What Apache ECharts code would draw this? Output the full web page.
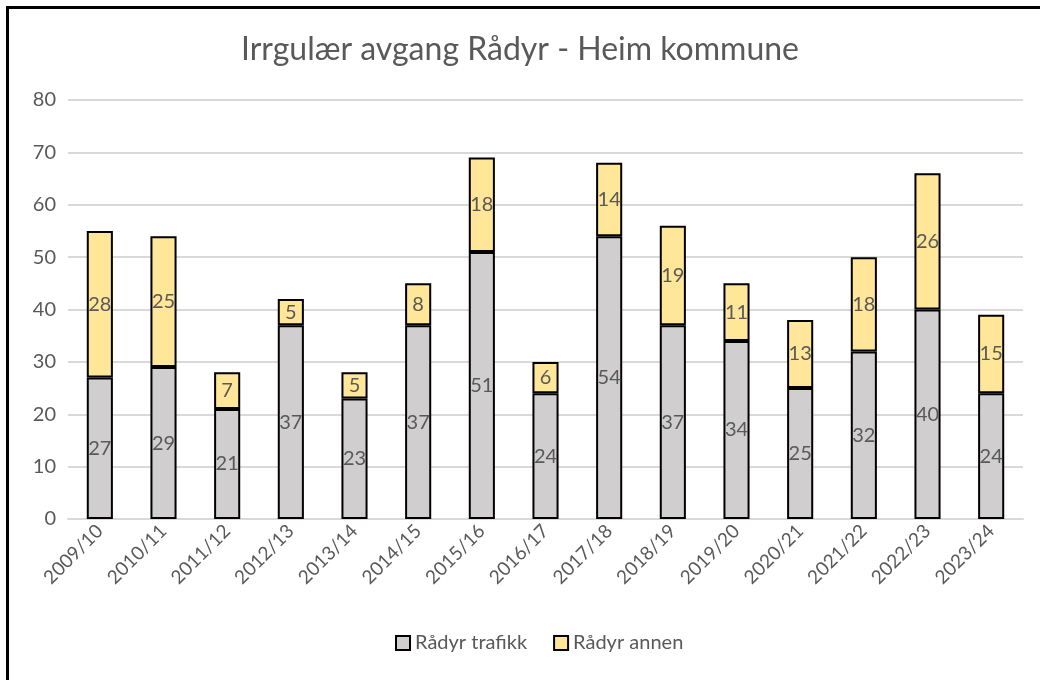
<!DOCTYPE html>
<html>
<head>
<meta charset="utf-8">
<script src="https://cdn.jsdelivr.net/npm/echarts@6/dist/echarts.min.js"></script>
<style>
  html, body { margin: 0; padding: 0; background: #fff; }
  #frame { position: absolute; left: 6px; top: 6px; width: 1100px; height: 700px;
           border-left: 3px solid #000; border-top: 3px solid #000; box-sizing: border-box; }
  #chart { position: absolute; left: 0; top: 0; width: 1040px; height: 680px; }
</style>
</head>
<body>
<div id="frame"></div>
<div id="chart"></div>
<script>
const seasons = ['2009/10','2010/11','2011/12','2012/13','2013/14','2014/15','2015/16','2016/17',
                 '2017/18','2018/19','2019/20','2020/21','2021/22','2022/23','2023/24'];
const trafikk = [27, 29, 21, 37, 23, 37, 51, 24, 54, 37, 34, 25, 32, 40, 24];
const annen   = [28, 25, 7, 5, 5, 8, 18, 6, 14, 19, 11, 13, 18, 26, 15];
const yTicks  = [0, 10, 20, 30, 40, 50, 60, 70, 80];

const font = 'Lato, "Open Sans", sans-serif';
const textColor = '#595959';

const chart = echarts.init(document.getElementById('chart'), null, { renderer: 'canvas' });

function barSeries(name, data, color) {
  return {
    name: name,
    type: 'bar',
    stack: 'total',
    data: data,
    barWidth: '41%',
    itemStyle: { color: color, borderColor: '#000', borderWidth: 2 },
    label: {
      show: true, position: 'inside',
      color: textColor, fontFamily: font, fontSize: 20
    },
    emphasis: { disabled: true }
  };
}

chart.setOption({
  animation: false,
  title: {
    text: 'Irrgulær avgang Rådyr - Heim kommune',
    left: 'center', top: 29,
    textStyle: { fontFamily: font, fontSize: 32, fontWeight: 'normal', color: textColor }
  },
  legend: {
    bottom: 22, left: 390,
    itemWidth: 14, itemHeight: 14, itemGap: 26,
    icon: 'rect',
    textStyle: { fontFamily: font, fontSize: 20, color: textColor },
    data: ['Rådyr trafikk', 'Rådyr annen']
  },
  grid: { left: 68, right: 17, top: 100, bottom: 161, containLabel: false },
  xAxis: {
    type: 'category',
    data: seasons,
    axisLine: { lineStyle: { color: '#d9d9d9', width: 2 } },
    axisTick: { show: false },
    axisLabel: {
      rotate: 45, interval: 0, margin: 9,
      color: textColor, fontFamily: font, fontSize: 19
    }
  },
  yAxis: {
    type: 'value',
    min: yTicks[0], max: yTicks[yTicks.length - 1], interval: 10,
    axisLine: { show: false },
    axisTick: { show: false },
    axisLabel: { color: textColor, fontFamily: font, fontSize: 20, margin: 12 },
    splitLine: { lineStyle: { color: '#d9d9d9', width: 2 } }
  },
  series: [
    barSeries('Rådyr trafikk', trafikk, '#d0cece'),
    barSeries('Rådyr annen', annen, '#ffe699')
  ]
});
</script>
</body>
</html>
